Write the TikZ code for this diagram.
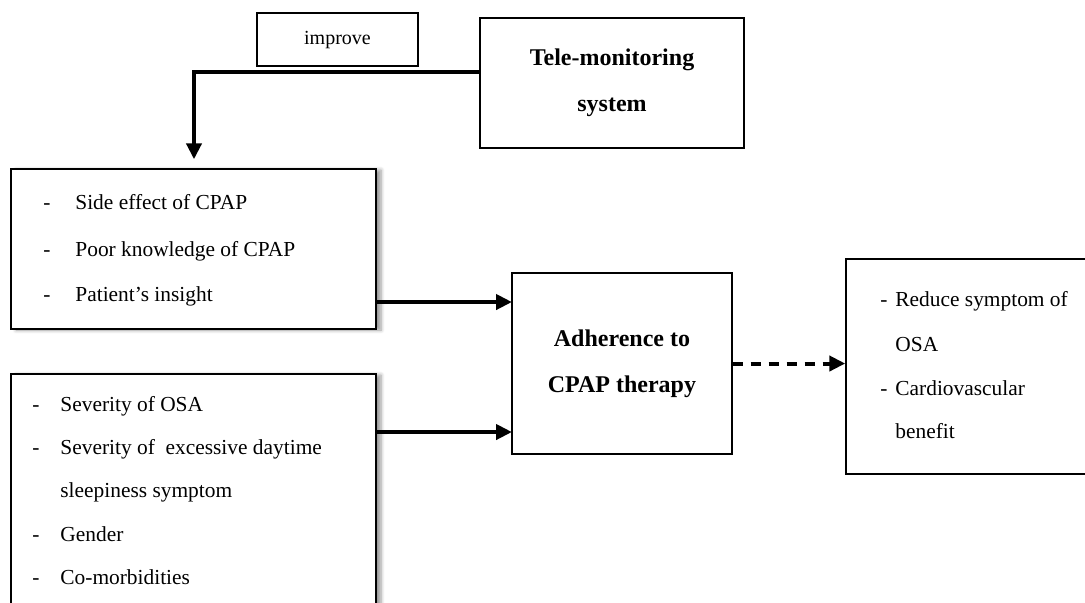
\documentclass[tikz,border=0pt]{standalone}
\usepackage{fontspec}
\setmainfont{Liberation Serif}
\usepackage{tikz}
\usetikzlibrary{arrows.meta, positioning, calc, shadows.blur}

\begin{document}
\begin{tikzpicture}[x=0.5pt, y=-0.5pt,
                    box/.style={draw, fill=white, line width=0.7pt, inner sep=0pt},
                    shadowbox/.style={box, blur shadow={shadow xshift=2.5pt, shadow yshift=-0.5pt, shadow opacity=40, shadow blur steps=6}},
                    item/.style={anchor=mid west, inner sep=0pt, font=\fontsize{10.7}{12}\selectfont},
                    title/.style={align=center, font=\fontsize{12}{23}\selectfont\bfseries},
                    flow/.style={-{Triangle[length=8pt, width=7.5pt]}, line width=2pt}]
                    \useasboundingbox (0,0) rectangle (1085,602);

                    % top: tele-monitoring
                    \node[box, minimum width=80.5pt, minimum height=26.5pt, font=\fontsize{10}{12}\selectfont] (Improve) at (337.5,39.5) {improve};
                    \node[box, title, minimum width=132pt, minimum height=65pt] (Tele) at (612,83) {Tele-monitoring\\system};

                    % left: barriers
                    \node[shadowbox, minimum width=182.5pt, minimum height=80pt] (Barrier) at (193.5,249) {};
                    \node[item] (BarrierDash1) at (43,205) {-};
                    \node[item] (BarrierDash2) at (43,252) {-};
                    \node[item] (BarrierDash3) at (43,297) {-};
                    \node[item] (Barrier1) at (75,205) {Side effect of CPAP};
                    \node[item] (Barrier2) at (75,252) {Poor knowledge of CPAP};
                    \node[item] (Barrier3) at (75,297) {Patient’s insight};

                    % left: factors
                    \node[shadowbox, minimum width=182.5pt, minimum height=135pt] (Factor) at (193.5,509) {};
                    \node[item] (FactorDash1) at (32,407) {-};
                    \node[item] (FactorDash2) at (32,450) {-};
                    \node[item] (FactorDash4) at (32,537) {-};
                    \node[item] (FactorDash5) at (32,580) {-};
                    \node[item] (Factor1) at (60,407) {Severity of OSA};
                    \node[item] (Factor2) at (60,450) {Severity of\ \ excessive daytime};
                    \node[item] (Factor3) at (60,493) {sleepiness symptom};
                    \node[item] (Factor4) at (60,537) {Gender};
                    \node[item] (Factor5) at (60,580) {Co-morbidities};

                    % middle and right
                    \node[box, title, minimum width=110pt, minimum height=90.5pt] (Adherence) at (622,363.5) {Adherence to\\CPAP therapy};
                    \node[box, minimum width=127pt, minimum height=107.5pt] (Outcome) at (973,366.5) {};
                    \node[item] (OutcomeDash1) at (880,302) {-};
                    \node[item] (OutcomeDash3) at (880,391) {-};
                    \node[item] (Outcome1) at (895,302) {Reduce symptom of};
                    \node[item] (Outcome2) at (895,347) {OSA};
                    \node[item] (Outcome3) at (895,391) {Cardiovascular};
                    \node[item] (Outcome4) at (895,434) {benefit};

                    \coordinate (Bend) at (194,72);
                    \coordinate (In1) at (512,302);
                    \coordinate (In2) at (512,432);

                    \draw[flow, shorten >=4.5pt] (Tele.west |- Bend) -- (Bend) -- (Bend |- Barrier.north);
                    \draw[flow] (Barrier.east |- In1) to (In1);
                    \draw[flow] (Factor.east |- In2) to (In2);
                    \draw[flow, dash pattern=on 5pt off 4pt] (Adherence.east) to (Adherence.east -| Outcome.west);
                \end{tikzpicture}
\end{document}
